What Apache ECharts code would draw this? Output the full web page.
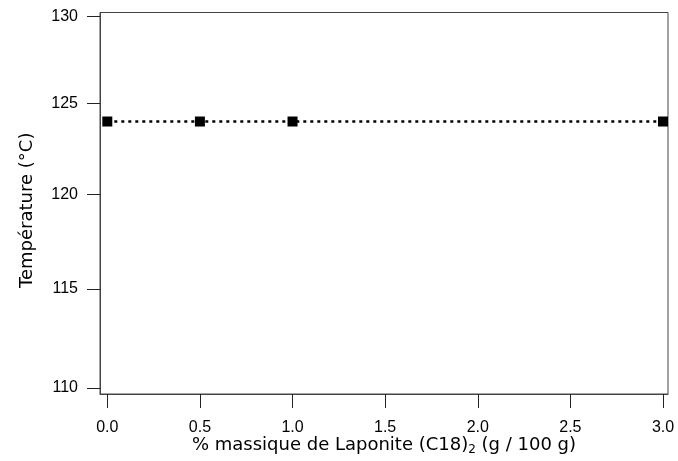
<!DOCTYPE html>
<html>
<head>
<meta charset="utf-8">
<script src="https://cdn.jsdelivr.net/npm/echarts@6/dist/echarts.min.js"></script>
<style>html,body{margin:0;padding:0;background:#fff}#c{width:678px;height:461px}</style>
</head>
<body>
<div id="c"></div>
<script>
var xValues = [0, 0.5, 1.0, 3.0];
var temperature = [124, 124, 124, 124];
var xTicks = [0, 0.5, 1.0, 1.5, 2.0, 2.5, 3.0];
var yTicks = [110, 115, 120, 125, 130];

var FONT = '"Liberation Sans", Arial, sans-serif';
var TFONT = '"DejaVu Sans", sans-serif';
var chart = echarts.init(document.getElementById('c'), null, {renderer: 'canvas'});
chart.setOption({
  animation: false,
  backgroundColor: '#fff',
  grid: {left: 100, right: 10, top: 12.5, bottom: 67, outerBoundsMode: 'none', containLabel: false,
    show: true, borderColor: '#444', borderWidth: 1, backgroundColor: 'transparent'},
  xAxis: {
    type: 'value', min: -0.0394, max: 3.027,
    axisLine: {show: true, onZero: false, lineStyle: {color: '#444', width: 1}},
    splitLine: {show: false},
    axisTick: {show: true, inside: false, length: 14, customValues: xTicks, lineStyle: {color: '#222'}},
    axisLabel: {show: true, customValues: xTicks, margin: 26, fontFamily: FONT, fontSize: 16, color: '#000',
      formatter: function (v) { return Number(v).toFixed(1); }},
    name: '{n|% massique de Laponite (C18)}{s|2}{n| (g / 100 g)}',
    nameLocation: 'middle', nameGap: 41,
    nameMoveOverlap: false,
    nameTextStyle: {verticalAlign: 'top', rich: {
      n: {fontFamily: TFONT, fontSize: 18, color: '#000', lineHeight: 20},
      s: {fontFamily: TFONT, fontSize: 12, color: '#000', lineHeight: 20, padding: [9, 0, 0, 0]}
    }}
  },
  yAxis: {
    type: 'log', logBase: 10, min: 109.7, max: 130.23,
    axisLine: {show: true, onZero: false, lineStyle: {color: '#444', width: 1}},
    splitLine: {show: false},
    minorTick: {show: false},
    axisTick: {show: true, inside: false, length: 13, customValues: yTicks, lineStyle: {color: '#222'}},
    axisLabel: {show: true, customValues: yTicks, margin: 22, fontFamily: FONT, fontSize: 16, color: '#000'},
    name: 'Température (°C)', nameLocation: 'middle', nameGap: 64,
    nameTextStyle: {fontFamily: TFONT, fontSize: 18, color: '#000', padding: [0, 14, 0, 0]}
  },
  series: [{
    type: 'line',
    data: xValues.map(function (x, i) { return [x, temperature[i]]; }),
    symbol: 'rect', symbolSize: 10,
    itemStyle: {color: '#000'},
    lineStyle: {color: '#000', width: 2.5, type: [3, 4]},
    z: 5
  }]
});
</script>
</body>
</html>
